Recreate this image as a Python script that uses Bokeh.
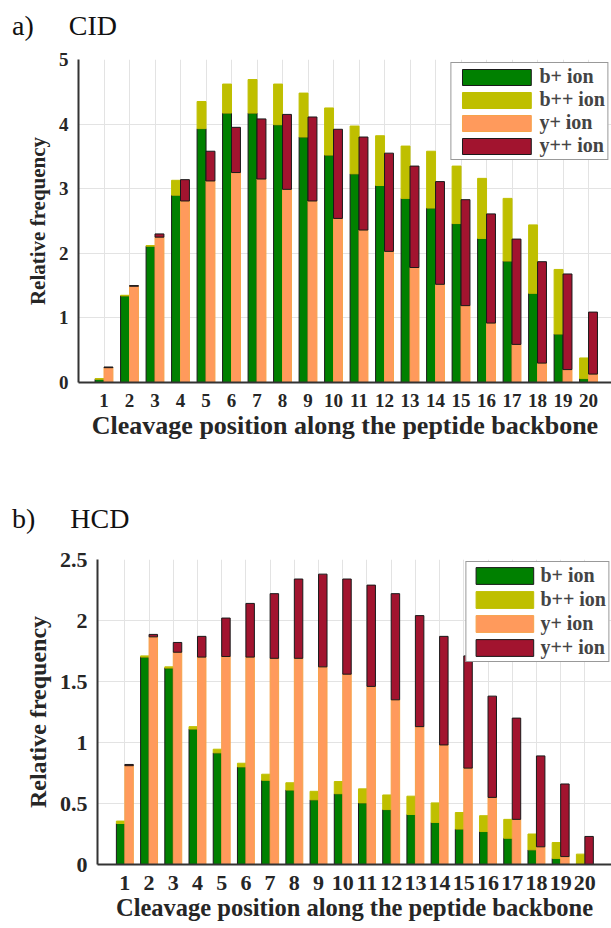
from bokeh.plotting import figure
from bokeh.models import FixedTicker, ColumnDataSource, Div
from bokeh.embed import file_html
from bokeh.resources import INLINE

positions = list(range(1, 21))
x_tick_labels = [str(i) for i in positions]

# a) CID
cid_b_plus = [0.05, 1.34, 2.11, 2.90, 3.93, 4.17, 4.17, 3.99, 3.80, 3.52, 3.23, 3.05, 2.85, 2.70, 2.46, 2.23, 1.88, 1.38, 0.75, 0.06]
cid_b_pp = [0.01, 0.01, 0.01, 0.23, 0.42, 0.45, 0.52, 0.63, 0.68, 0.73, 0.74, 0.77, 0.81, 0.88, 0.89, 0.93, 0.97, 1.06, 1.00, 0.32]
cid_y_plus = [0.23, 1.49, 2.25, 2.81, 3.12, 3.25, 3.15, 2.99, 2.81, 2.54, 2.36, 2.03, 1.78, 1.52, 1.19, 0.92, 0.59, 0.30, 0.20, 0.13]
cid_y_pp = [0.01, 0.01, 0.05, 0.33, 0.46, 0.70, 0.93, 1.16, 1.30, 1.38, 1.44, 1.52, 1.57, 1.59, 1.64, 1.69, 1.63, 1.57, 1.48, 0.96]
cid_y_ticks = [0, 1, 2, 3, 4, 5]
cid_y_tick_labels = ["0", "1", "2", "3", "4", "5"]

# b) HCD
hcd_b_plus = [0.336, 1.70, 1.61, 1.11, 0.915, 0.80, 0.69, 0.61, 0.53, 0.58, 0.505, 0.45, 0.41, 0.345, 0.29, 0.27, 0.215, 0.12, 0.05, 0.005]
hcd_b_pp = [0.02, 0.01, 0.01, 0.02, 0.03, 0.03, 0.05, 0.06, 0.07, 0.10, 0.115, 0.12, 0.15, 0.16, 0.136, 0.13, 0.155, 0.13, 0.13, 0.08]
hcd_y_plus = [0.81, 1.866, 1.74, 1.70, 1.705, 1.70, 1.69, 1.69, 1.62, 1.56, 1.46, 1.35, 1.13, 0.98, 0.79, 0.55, 0.37, 0.145, 0.065, 0.0]
hcd_y_pp = [0.01, 0.02, 0.08, 0.17, 0.315, 0.44, 0.53, 0.65, 0.76, 0.78, 0.83, 0.87, 0.91, 0.89, 0.92, 0.83, 0.83, 0.745, 0.595, 0.23]
hcd_y_ticks = [0, 0.5, 1, 1.5, 2, 2.5]
hcd_y_tick_labels = ["0", "0.5", "1", "1.5", "2", "2.5"]

series_names = ["b+ ion", "b++ ion", "y+ ion", "y++ ion"]
panel_letters = ["a)", "b)"]
panel_titles = ["CID", "HCD"]

GREEN = "#008000"
YELLOW = "#bfbf00"
ORANGE = "#ff9a5c"
RED = "#a2142f"
SERIF = "Liberation Serif"
BW = 0.35


def make_title(letter, name, height, pad_top):
    html = ('<div style="margin:0;padding:%dpx 0 0 12px;font-family:\'Liberation Serif\';'
            'font-size:28px;line-height:28px;color:#111;white-space:pre;">%s     %s</div>'
            % (pad_top, letter, name))
    return Div(text=html, width=611, height=height, margin=(0, 0, 0, 0))


def make_chart(b_plus, b_pp, y_plus, y_pp, y_ticks, y_labels, ymax, xr,
               height, border_top, border_left, border_bottom,
               tick_size, xlab_size, ylab_size, xl_standoff, xa_standoff,
               leg_size, glyph_w, glyph_h, leg_spacing, leg_margin):
    p = figure(width=611, height=height, output_backend="svg", toolbar_location=None,
               x_range=xr, y_range=(0, ymax), title=None,
               min_border_left=border_left, min_border_right=0,
               min_border_top=border_top, min_border_bottom=border_bottom)
    p.outline_line_color = None
    p.background_fill_color = "white"

    xb = [c - BW / 2 for c in positions]
    xy = [c + BW / 2 for c in positions]
    b_top = [a + b for a, b in zip(b_plus, b_pp)]
    y_top = [a + b for a, b in zip(y_plus, y_pp)]
    zeros = [0] * len(positions)
    src = ColumnDataSource(dict(xb=xb, xy=xy, zero=zeros, bp=b_plus, btop=b_top,
                                yp=y_plus, ytop=y_top))

    p.vbar(x="xb", bottom="zero", top="bp", width=BW, source=src, fill_color=GREEN,
           line_color="#1a1a1a", line_width=1, legend_label=series_names[0])
    p.vbar(x="xb", bottom="bp", top="btop", width=BW, source=src, fill_color=YELLOW,
           line_color=YELLOW, line_width=1, legend_label=series_names[1])
    p.vbar(x="xy", bottom="zero", top="yp", width=BW, source=src, fill_color=ORANGE,
           line_color="#f6a24a", line_width=1, legend_label=series_names[2])
    p.vbar(x="xy", bottom="yp", top="ytop", width=BW, source=src, fill_color=RED,
           line_color="#1a1a1a", line_width=1, legend_label=series_names[3])

    p.xaxis.ticker = FixedTicker(ticks=positions)
    p.xaxis.major_label_overrides = {c: l for c, l in zip(positions, x_tick_labels)}
    p.yaxis.ticker = FixedTicker(ticks=y_ticks)
    p.yaxis.major_label_overrides = {t: l for t, l in zip(y_ticks, y_labels)}
    p.xgrid.ticker = FixedTicker(ticks=positions)
    p.ygrid.ticker = FixedTicker(ticks=y_ticks)
    p.grid.grid_line_color = "#e3e3e3"
    p.grid.grid_line_width = 1

    for ax in (p.xaxis, p.yaxis):
        ax.axis_line_color = "#333333"
        ax.axis_line_width = 2
        ax.major_tick_line_color = None
        ax.minor_tick_line_color = None
        ax.major_tick_out = 0
        ax.major_tick_in = 0
        ax.minor_tick_out = 0
        ax.major_label_text_font = SERIF
        ax.major_label_text_font_style = "bold"
        ax.major_label_text_font_size = tick_size
        ax.major_label_text_color = "#262626"
        ax.axis_label_text_font = SERIF
        ax.axis_label_text_font_style = "bold"
        ax.axis_label_text_color = "#262626"
    p.xaxis.axis_label = "Cleavage position along the peptide backbone"
    p.xaxis.axis_label_text_font_size = xlab_size
    p.xaxis.major_label_standoff = xl_standoff
    p.xaxis.axis_label_standoff = xa_standoff
    p.yaxis.axis_label = "Relative frequency"
    p.yaxis.axis_label_text_font_size = ylab_size
    p.yaxis.major_label_standoff = 10
    p.yaxis.axis_label_standoff = 6

    lg = p.legend[0]
    lg.location = "top_right"
    lg.margin = leg_margin
    lg.padding = 2
    lg.spacing = leg_spacing
    lg.glyph_width = glyph_w
    lg.glyph_height = glyph_h
    lg.label_text_font = SERIF
    lg.label_text_font_style = "bold"
    lg.label_text_font_size = leg_size
    lg.label_standoff = 0
    lg.border_line_color = "#333333"
    lg.border_line_width = 1.5
    lg.background_fill_alpha = 1
    return p


t1 = make_title(panel_letters[0], panel_titles[0], 45, 12)
p1 = make_chart(cid_b_plus, cid_b_pp, cid_y_plus, cid_y_pp,
                cid_y_ticks, cid_y_tick_labels, 5, (0.0, 20.9),
                422, 14, 78, 85, "19px", "26px", "21px", 11, 1,
                "20px", 86, 20, 0, 3)
t2 = make_title(panel_letters[1], panel_titles[1], 80, 38)
p2 = make_chart(hcd_b_plus, hcd_b_pp, hcd_y_plus, hcd_y_pp,
                hcd_y_ticks, hcd_y_tick_labels, 2.5, (-0.13, 21.1),
                381, 12, 97, 64, "22px", "24.5px", "24px", 11, 1,
                "20px", 72, 21, 1, 2)

open("out.html", "w").write(file_html([t1, p1, t2, p2], INLINE))
